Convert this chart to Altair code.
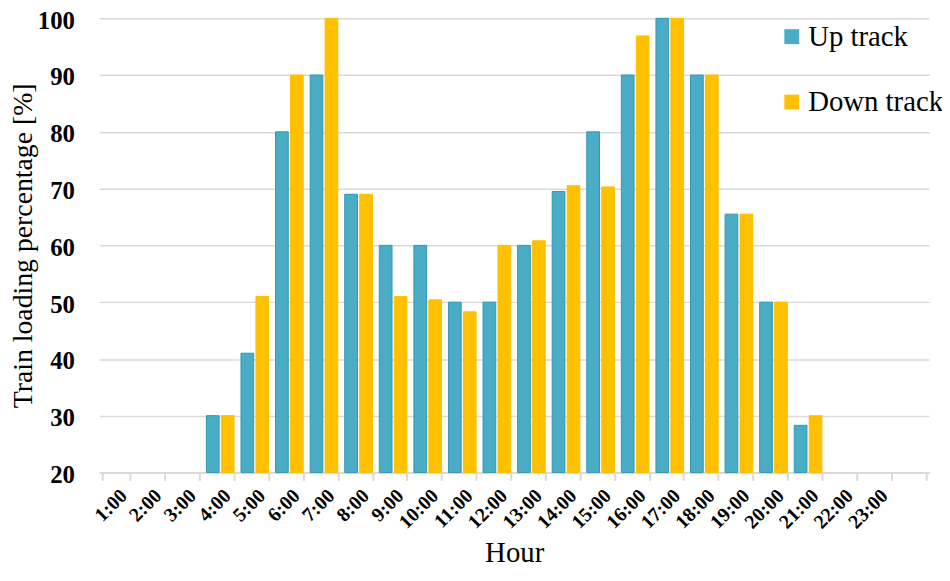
import altair as alt
import pandas as pd

hours = ["1:00", "2:00", "3:00", "4:00", "5:00", "6:00", "7:00", "8:00", "9:00",
         "10:00", "11:00", "12:00", "13:00", "14:00", "15:00", "16:00", "17:00",
         "18:00", "19:00", "20:00", "21:00", "22:00", "23:00", "24:00"]
up_track = [None, None, None, 30, 41, 80, 90, 69, 60, 60, 50, 50, 60, 69.5, 80,
            90, 100, 90, 65.5, 50, 28.3, None, None, None]
down_track = [None, None, None, 30, 51, 90, 100, 69, 51, 50.4, 48.3, 60, 60.8, 70.5,
              70.3, 96.9, 100, 90, 65.5, 50, 30, None, None, None]
series_names = ["Up track", "Down track"]
series_colors = ["#4bacc6", "#ffc000"]
series_strokes = ["#2f98b6", "#ffc000"]
y_ticks = [20, 30, 40, 50, 60, 70, 80, 90, 100]

rows = []
for h, u, d in zip(hours, up_track, down_track):
    rows.append({"hour": h, "series": series_names[0], "value": u})
    rows.append({"hour": h, "series": series_names[1], "value": d})
df = pd.DataFrame(rows)

FONT = "Times New Roman, 'Liberation Serif', 'DejaVu Serif', serif"

chart = alt.Chart(df).transform_filter(
    "isValid(datum.value)"
).mark_bar(strokeWidth=1).encode(
    x=alt.X("hour:N", sort=hours,
            scale=alt.Scale(domain=hours, paddingInner=0.2, paddingOuter=0.1),
            axis=alt.Axis(title="Hour", labelAngle=-45, tickBand="extent",
                          labelExpr="datum.value == '24:00' ? '' : datum.value",
                          labelFont=FONT, labelFontSize=20, labelFontWeight="bold",
                          labelColor="black", titleFont=FONT, titleFontSize=29,
                          titleFontWeight="normal", titleColor="black",
                          titlePadding=7, labelPadding=5,
                          domainColor="#d9d9d9", domainWidth=2,
                          tickColor="#d9d9d9", tickWidth=2, tickSize=8,
                          grid=False)),
    xOffset=alt.XOffset("series:N", sort=series_names,
                        scale=alt.Scale(paddingInner=0.15, paddingOuter=0)),
    y=alt.Y("value:Q",
            scale=alt.Scale(domain=[20, 100], zero=False, nice=False),
            axis=alt.Axis(title="Train loading percentage [%]", values=y_ticks,
                          labelFont=FONT, labelFontSize=25, labelFontWeight="bold",
                          labelColor="black", labelPadding=25, labelOffset=2,
                          titleFont=FONT, titleFontSize=28, titleFontWeight="normal",
                          titleColor="black", titlePadding=0,
                          domain=False, ticks=False,
                          gridColor="#d9d9d9", gridWidth=1.5)),
    y2=alt.datum(20),
    color=alt.Color("series:N", sort=series_names,
                    scale=alt.Scale(domain=series_names, range=series_colors),
                    legend=alt.Legend(title=None, orient="none", legendX=684, legendY=4,
                                      symbolType="square", symbolSize=225,
                                      symbolStrokeWidth=0,
                                      labelFont=FONT, labelFontSize=29,
                                      labelColor="black", labelOffset=2,
                                      rowPadding=36)),
    stroke=alt.Stroke("series:N", sort=series_names,
                      scale=alt.Scale(domain=series_names, range=series_strokes),
                      legend=None),
).properties(
    width=837, height=458,
    autosize=alt.AutoSizeParams(type="none"),
    padding={"left": 92, "top": 8, "right": 13, "bottom": 94},
).configure_view(stroke=None)

chart.save("out.html", embed_options={"renderer": "svg", "actions": False})
